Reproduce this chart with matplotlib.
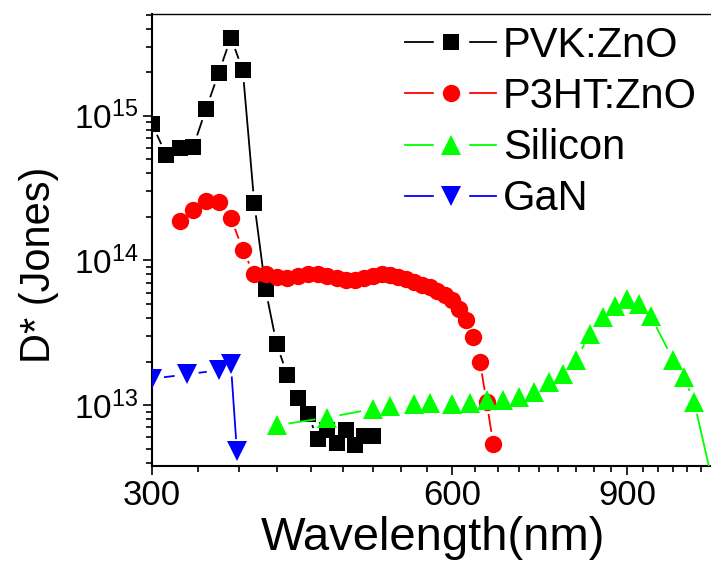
import numpy as np
import matplotlib
matplotlib.use("Agg")
import matplotlib.pyplot as plt
from matplotlib.lines import Line2D
from matplotlib.legend_handler import HandlerTuple
from matplotlib.ticker import FixedLocator, FixedFormatter, NullFormatter, LogLocator

plt.rcParams['font.family'] = ['Liberation Sans', 'DejaVu Sans']
plt.rcParams['mathtext.default'] = 'regular'

# PVK:ZnO
wl_pvk = [300, 310, 320, 330, 340, 350, 360, 370, 380, 390, 400,
          410, 420, 430, 440, 450, 460, 470, 480, 490, 500]
d_pvk = [8.8e14, 5.35e14, 6.0e14, 6.1e14, 1.12e15, 1.98e15, 3.47e15, 2.07e15,
         2.48e14, 6.3e13, 2.66e13, 1.62e13, 1.12e13, 8.7e12, 5.8e12, 6.7e12,
         5.5e12, 6.7e12, 5.3e12, 6.1e12, 6.1e12]

# P3HT:ZnO
wl_p3ht = [320, 330, 340, 350, 360, 370, 380, 390, 400, 410, 420, 430,
           440, 450, 460, 470, 480, 490, 500, 510, 520, 530, 540, 550,
           560, 570, 580, 590, 600, 610, 620, 630, 640, 650, 660]
d_p3ht = [1.87e14, 2.23e14, 2.58e14, 2.52e14, 1.98e14, 1.18e14, 8.0e13,
          8.0e13, 7.7e13, 7.6e13, 7.8e13, 8.0e13, 8.0e13, 7.8e13, 7.5e13,
          7.3e13, 7.35e13, 7.6e13, 7.85e13, 8.0e13, 7.9e13, 7.7e13, 7.4e13,
          7.1e13, 6.8e13, 6.5e13, 6.1e13, 5.8e13, 5.3e13, 4.65e13, 3.9e13,
          2.96e13, 2.0e13, 1.05e13, 5.4e12]

# Silicon
wl_si = [400, 450, 500, 520, 550, 570, 600, 625, 650, 675, 700, 725, 750,
         775, 800, 825, 850, 875, 900, 925, 950, 1000, 1025, 1050, 1100]
d_si = [7.24e12, 8.2e12, 9.4e12, 9.85e12, 1.02e13, 1.03e13, 1.02e13, 1.03e13,
        1.08e13, 1.09e13, 1.14e13, 1.24e13, 1.44e13, 1.65e13, 2.06e13, 3.12e13,
        4.06e13, 4.82e13, 5.45e13, 4.98e13, 4.11e13, 2.06e13, 1.56e13, 1.05e13,
        2.6e12]

# GaN
wl_gan = [300, 325, 350, 360, 365]
d_gan = [1.52e13, 1.63e13, 1.74e13, 1.91e13, 4.8e12]

series = [
    ("PVK:ZnO", wl_pvk, d_pvk, "black", "s", 11.5),
    ("P3HT:ZnO", wl_p3ht, d_p3ht, "#ff0000", "o", 12.5),
    ("Silicon", wl_si, d_si, "#00ff00", "^", 14.5),
    ("GaN", wl_gan, d_gan, "#0000ff", "v", 14.5),
]

fig = plt.figure(figsize=(7.11, 5.62), dpi=100)
ax = fig.add_axes([152 / 711, 96 / 562, 562.3 / 711, 451.7 / 562])
ax.set_xscale('log')
ax.set_yscale('log')
ax.set_xlim(300, 1100)
ax.set_ylim(3.79e12, 5.03e15)


def gapped_line(x, y, color, z, gap=13):
    # origin style: line stops short of each marker
    pts = ax.transData.transform(np.column_stack([x, y]))
    inv = ax.transData.inverted()
    for p0, p1 in zip(pts[:-1], pts[1:]):
        d = p1 - p0
        L = np.hypot(d[0], d[1])
        if L <= 2 * gap:
            continue
        u = d / L
        seg = inv.transform(np.array([p0 + u * gap, p1 - u * gap]))
        ax.plot(seg[:, 0], seg[:, 1], color=color, lw=1.3, zorder=z)


handles = []
for i, (name, x, y, c, m, ms) in enumerate(series):
    gapped_line(x, y, c, 2 + i)
    ax.plot(x, y, ls='none', marker=m, ms=ms, color=c, mew=0, zorder=2.5 + i)
    h_line = Line2D([], [], color=c, lw=1.3)
    h_halo = Line2D([], [], ls='none', marker='s', ms=24.5, mfc='white', mec='white')
    h_mark = Line2D([], [], ls='none', marker=m, ms=ms, color=c, mew=0)
    handles.append((h_line, h_halo, h_mark))

ax.legend(handles, [s[0] for s in series],
          handler_map={tuple: HandlerTuple(ndivide=1, pad=0)},
          loc='upper left', bbox_to_anchor=(0.405, 1.03), frameon=False, fontsize=30,
          handlelength=2.2, handletextpad=0.15, labelspacing=0.27, borderaxespad=0.2)

ax.xaxis.set_major_locator(FixedLocator([300, 600, 900]))
ax.xaxis.set_major_formatter(FixedFormatter(['300', '600', '900']))
ax.xaxis.set_minor_locator(FixedLocator(np.arange(300, 1101, 100 / 3)))
ax.xaxis.set_minor_formatter(NullFormatter())
ax.yaxis.set_major_locator(LogLocator(base=10))
ax.yaxis.set_minor_locator(LogLocator(base=10, subs=np.arange(2, 10)))
ax.yaxis.set_minor_formatter(NullFormatter())

ax.tick_params(which='both', direction='out', top=False, right=False, width=1.2)
ax.tick_params(which='major', length=6.5)
ax.tick_params(which='minor', length=4)
ax.tick_params(axis='x', labelsize=25, pad=3)
ax.tick_params(axis='y', labelsize=24, pad=3)

ax.spines['left'].set_linewidth(1.5)
ax.spines['bottom'].set_linewidth(1.5)
ax.spines['top'].set_linewidth(1.0)
ax.spines['right'].set_visible(False)

ax.set_xlabel('Wavelength(nm)', fontsize=34, labelpad=3)
ax.set_ylabel('D* (Jones)', fontsize=30)
ax.yaxis.set_label_coords(-0.165, 0.445)

fig.savefig('out.png', dpi=100)
